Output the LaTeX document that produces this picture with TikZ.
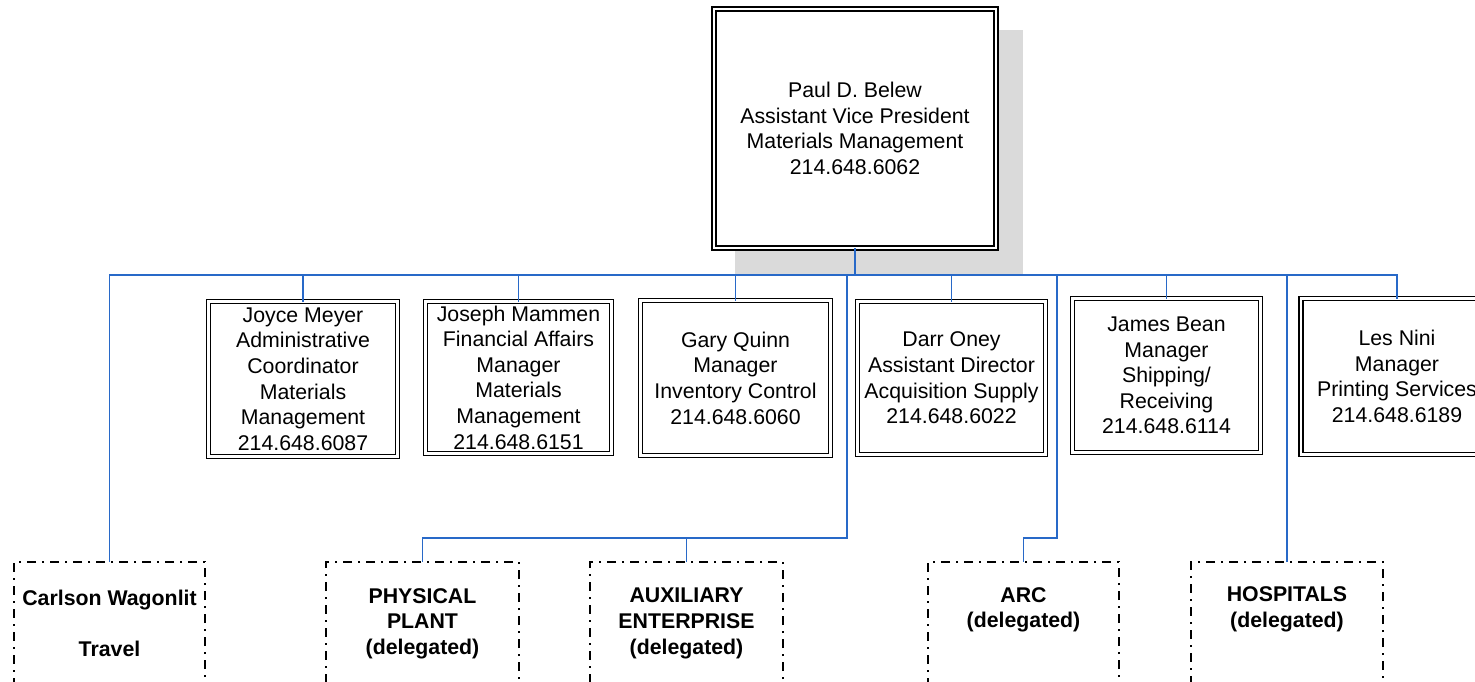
\documentclass[tikz,border=0pt]{standalone}
\usepackage{fontspec}
\setmainfont{Liberation Sans}
\definecolor{conncol}{RGB}{40,105,200}
\definecolor{shadowcol}{RGB}{218,218,218}
\begin{document}
\begin{tikzpicture}[x=1pt,y=-1pt,
  every node/.style={inner sep=0pt, outer sep=0pt, align=center, font=\fontsize{21.3}{25.6}\selectfont},
  dbox/.style={draw=black, double=white, double distance=2.4pt, line width=1.4pt, fill=white},
  dashbox/.style={draw=black, line width=1.8pt, dash pattern=on 9pt off 6pt on 2pt off 6pt, font=\fontsize{21.3}{25.6}\selectfont\bfseries},
  conn/.style={draw=conncol, line width=1.6pt}
]
\useasboundingbox (0,0) rectangle (1475,682);
\clip (0,0) rectangle (1475,682);
% shadow of top box
\fill[shadowcol] (735,30) rectangle (1023,274);
% top box
\node[dbox, minimum width=282pt, minimum height=239pt] (top) at (855,128.5)
  {Paul D. Belew\\Assistant Vice President\\Materials Management\\214.648.6062};
% middle row
\node[dbox, minimum width=189pt, minimum height=155pt] (joyce) at (303,379)
  {Joyce Meyer\\Administrative\\Coordinator\\Materials\\Management\\214.648.6087};
\node[dbox, minimum width=186pt, minimum height=152pt] (joseph) at (518.5,377.5)
  {Joseph Mammen\\Financial Affairs\\Manager\\Materials\\Management\\214.648.6151};
\node[dbox, minimum width=190pt, minimum height=155pt] (gary) at (735.5,378)
  {Gary Quinn\\Manager\\Inventory Control\\214.648.6060};
\node[dbox, minimum width=188pt, minimum height=153pt] (darr) at (951.5,378)
  {Darr Oney\\Assistant Director\\Acquisition Supply\\214.648.6022};
\node[dbox, minimum width=188pt, minimum height=154pt] (james) at (1166.5,375.5)
  {James Bean\\Manager\\Shipping/\\Receiving\\214.648.6114};
\node[dbox, minimum width=192pt, minimum height=156pt] (les) at (1397,376.5)
  {Les Nini\\Manager\\Printing Services\\214.648.6189};
% bottom row
\node[dashbox, minimum width=191pt, minimum height=123pt] (carlson) at (109.5,623.5)
  {Carlson Wagonlit\\~\\Travel};
\node[dashbox, minimum width=193pt, minimum height=123pt] (phys) at (422.5,623.5)
  {PHYSICAL\\PLANT\\(delegated)};
\node[dashbox, minimum width=193pt, minimum height=123pt] (aux) at (686.5,623.5)
  {AUXILIARY\\ENTERPRISE\\(delegated)};
\node[dashbox, minimum width=191pt, minimum height=123pt] (arc) at (1023.5,623.5)
  {ARC\\(delegated)\\[6pt]~};
\node[dashbox, minimum width=192pt, minimum height=123pt] (hosp) at (1287,623.5)
  {HOSPITALS\\(delegated)\\[7pt]~};
% connector helpers
\coordinate (bus) at (0,275);
\coordinate (j1) at (847,538);
\coordinate (j2) at (1057,538);
% connectors
\draw[conn] (carlson.north) -- (carlson.north |- bus) -- (les.north |- bus) -- (les.north);
\draw[conn] (top.south) -- (top.south |- bus);
\foreach \n in {joyce,joseph,gary,darr,james}
  \draw[conn] (\n.north) -- (\n.north |- bus);
\draw[conn] (j1 |- bus) -- (j1) -| (phys.north);
\draw[conn] (aux.north) -- (aux.north |- j1);
\draw[conn] (j2 |- bus) -- (j2) -| (arc.north);
\draw[conn] (hosp.north) -- (hosp.north |- bus);
\end{tikzpicture}
\end{document}
